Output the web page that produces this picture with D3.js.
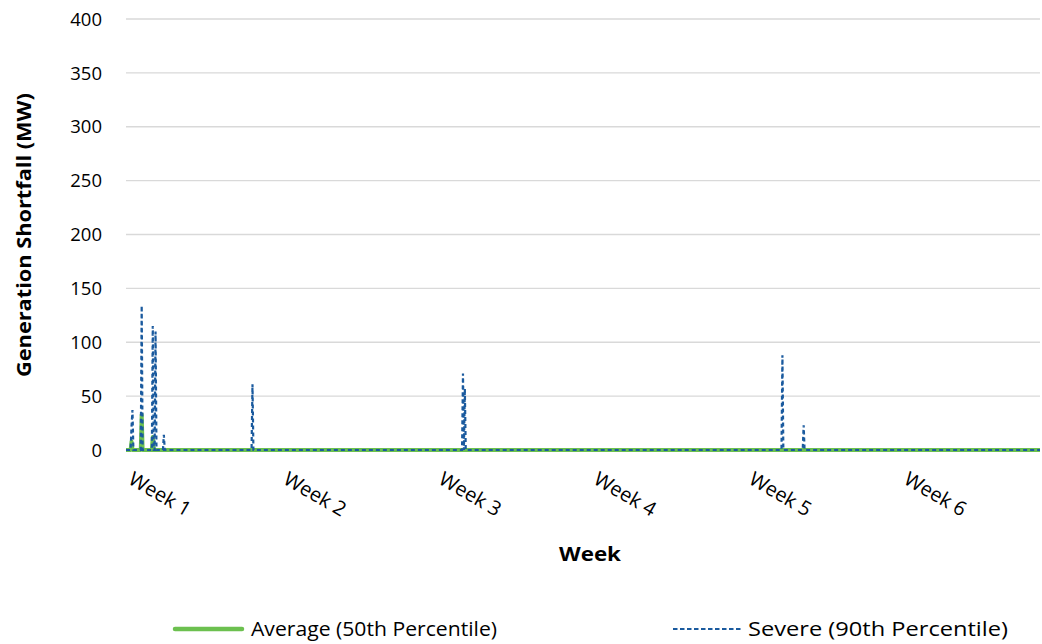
<!DOCTYPE html>
<html>
<head>
<meta charset="utf-8">
<script src="https://cdn.jsdelivr.net/npm/d3@7"></script>
<style>
  body { margin: 0; background: #fff; }
  text { font-family: "Open Sans", "Noto Sans", sans-serif; fill: #000; }
</style>
</head>
<body>
<svg id="chart" width="1042" height="644"></svg>
<script>
// hourly series, only the points around each spike (everything else is 0 MW)
let hourCount = 990
let weekLabels = ["Week 1", "Week 2", "Week 3", "Week 4", "Week 5", "Week 6"]
let weekHours = [0, 168, 336, 504, 672, 840]
let yTicks = [0, 50, 100, 150, 200, 250, 300, 350, 400]

let averageHours = [0, 5, 6, 7, 16, 17, 18, 28, 29, 30, 990]
let averageMW    = [0, 0, 8, 0, 0, 33, 0, 0, 12, 0, 0]

let severeHours = [0, 5, 6, 7, 8, 16, 17, 18, 28, 29, 30, 31, 32, 33, 40, 41, 42, 136, 137, 138, 364, 365, 366, 367, 368, 710, 711, 712, 733, 734, 735, 990]
let severeMW    = [0, 0, 22, 37, 0, 0, 134, 0, 0, 115, 0, 0, 110, 0, 0, 14, 0, 0, 61, 0, 0, 71, 0, 57, 0, 0, 88, 0, 0, 23, 0, 0]

let avgData = averageHours.map((h, i) => ({ h: h, v: averageMW[i] }))
let sevData = severeHours.map((h, i) => ({ h: h, v: severeMW[i] }))

let svg = d3.select("#chart")
let plotLeft = 126, plotRight = 1040, plotTop = 19, plotBottom = 450

let x = d3.scaleLinear().domain([0, hourCount]).range([plotLeft, plotRight])
let y = d3.scaleLinear().domain([0, 400]).range([plotBottom, plotTop])

// gridlines
svg.append("g").selectAll("line")
  .data(yTicks)
  .join("line")
  .attr("x1", plotLeft).attr("x2", plotRight)
  .attr("y1", d => y(d)).attr("y2", d => y(d))
  .attr("stroke", "#d9d9d9")
  .attr("stroke-width", 1.3)

// y axis labels
svg.append("g").selectAll("text")
  .data(yTicks)
  .join("text")
  .attr("x", 102)
  .attr("y", d => y(d))
  .attr("dy", "0.36em")
  .attr("text-anchor", "end")
  .style("font-size", "18.5px")
  .text(d => d)

// week labels, rotated
svg.append("g").selectAll("text")
  .data(weekLabels)
  .join("text")
  .attr("transform", (d, i) => "translate(" + (x(weekHours[i]) + 1) + "," + 483 + ") rotate(30)")
  .style("font-size", "20px")
  .text(d => d)

// axis titles
svg.append("text")
  .attr("transform", "translate(31," + 235 + ") rotate(-90)")
  .attr("text-anchor", "middle")
  .attr("textLength", 284)
  .attr("lengthAdjust", "spacingAndGlyphs")
  .style("font-size", "20px")
  .style("font-weight", "bold")
  .text("Generation Shortfall (MW)")

svg.append("text")
  .attr("x", 590).attr("y", 561)
  .attr("text-anchor", "middle")
  .attr("textLength", 62)
  .attr("lengthAdjust", "spacingAndGlyphs")
  .style("font-size", "20px")
  .style("font-weight", "bold")
  .text("Week")

let line = d3.line().x(d => x(d.h)).y(d => y(d.v))

svg.append("path")
  .datum(avgData)
  .attr("d", line)
  .attr("fill", "none")
  .attr("stroke", "#6cc04f")
  .attr("stroke-width", 4)
  .attr("stroke-linejoin", "round")

svg.append("path")
  .datum(sevData)
  .attr("d", line)
  .attr("fill", "none")
  .attr("stroke", "#1a5a9e")
  .attr("stroke-width", 2.2)
  .attr("stroke-dasharray", "4 3")

// legend
let legend = svg.append("g")
legend.append("line")
  .attr("x1", 175).attr("x2", 242).attr("y1", 629).attr("y2", 629)
  .attr("stroke", "#6cc04f").attr("stroke-width", 4.5).attr("stroke-linecap", "round")
legend.append("text")
  .attr("x", 251).attr("y", 629).attr("dy", "0.36em")
  .attr("textLength", 246)
  .attr("lengthAdjust", "spacingAndGlyphs")
  .style("font-size", "19.5px")
  .text("Average (50th Percentile)")
legend.append("line")
  .attr("x1", 673).attr("x2", 741).attr("y1", 629).attr("y2", 629)
  .attr("stroke", "#1a5a9e").attr("stroke-width", 1.8).attr("stroke-dasharray", "4.5 2.5")
legend.append("text")
  .attr("x", 748).attr("y", 629).attr("dy", "0.36em")
  .attr("textLength", 260)
  .attr("lengthAdjust", "spacingAndGlyphs")
  .style("font-size", "19.5px")
  .text("Severe (90th Percentile)")
</script>
</body>
</html>
